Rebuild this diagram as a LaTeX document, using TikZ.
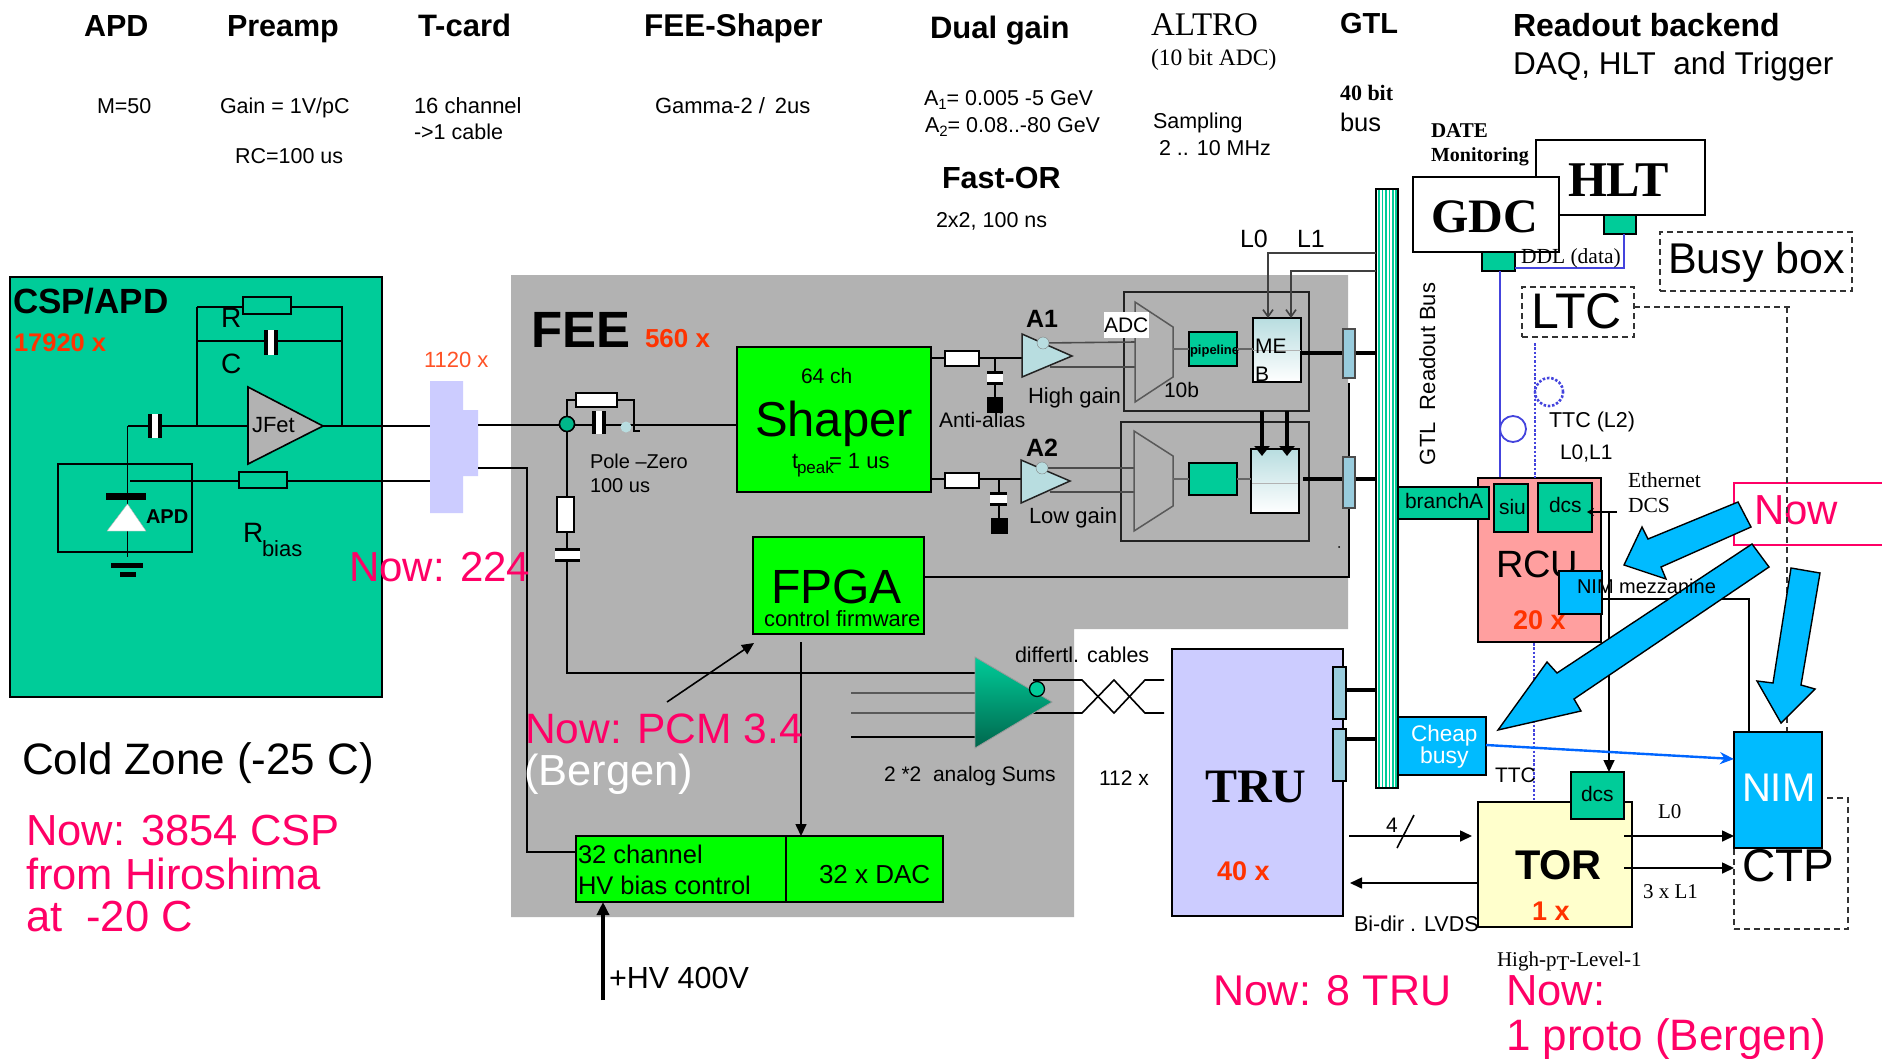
\documentclass[tikz,border=0pt]{standalone}
\usepackage{fontspec}
\setmainfont{Liberation Sans}
\newfontfamily\tmsfont{Liberation Serif}
\usetikzlibrary{fit,arrows.meta}
\definecolor{teal1}{HTML}{00CC99}
\definecolor{grn}{HTML}{00FF00}
\definecolor{gry}{HTML}{B2B2B2}
\definecolor{lav}{HTML}{CCCCFF}
\definecolor{sky}{HTML}{00BBFF}
\definecolor{pnk}{HTML}{FF0066}
\definecolor{orng}{HTML}{FF3300}
\definecolor{ltb}{HTML}{B8DDE0}
\definecolor{conn}{HTML}{99CCDD}
\definecolor{rcu}{HTML}{FF9F9F}
\definecolor{torc}{HTML}{FFFFCC}
\definecolor{ddl}{HTML}{4444DD}
\definecolor{dk}{HTML}{222222}
\tikzset{
  lab/.style={anchor=base west,inner sep=0pt,outer sep=0pt,text=black},
  bld/.style={font=\bfseries},
  tms/.style={font=\tmsfont},
  tmsb/.style={font=\tmsfont\bfseries},
  wire/.style={draw=black,line width=1.6pt},
  thick wire/.style={draw=black,line width=4.5pt},
  boxk/.style={draw=black,line width=1.6pt},
  tealb/.style={boxk,fill=teal1},
  grnb/.style={boxk,fill=grn},
  skyb/.style={boxk,fill=sky},
  res/.style={boxk,fill=white},
  resg/.style={boxk,fill=teal1},
  plug/.style={boxk,fill=conn},
  dashbox/.style={draw=black!80,line width=1.6pt,dash pattern=on 6pt off 4pt},
  blue wire/.style={draw=ddl,line width=1.8pt},
  blue dot/.style={draw=ddl,line width=2.6pt,dash pattern=on 2.5pt off 1.8pt},
  big arrow/.style={draw=black,fill=sky,line width=1.4pt,line join=miter},
  tip/.style={-{Triangle[length=12pt,width=11pt]}},
  open tip/.style={-{Straight Barb[length=7pt,width=10pt]}},
}
\newcommand\lab[5][]{\node[lab,#1] (#2) at (#3) {\fontsize{#4}{#4}\selectfont #5};}
\newcommand\bx[4][]{\node[fit={(#3)(#4)},inner sep=0pt,outer sep=0pt,#1] (#2) {};}
\newcommand\capv[3]{\bx[fill=white]{#1}{#2}{#3}
  \draw[line width=4.5pt,line cap=butt] ([xshift=2.2pt]#1.north west) -- ([xshift=2.2pt]#1.south west) ([xshift=-2.2pt]#1.north east) -- ([xshift=-2.2pt]#1.south east);}
\newcommand\caph[3]{\bx[fill=white]{#1}{#2}{#3}
  \draw[line width=3.5pt,line cap=butt] ([yshift=-1.7pt]#1.north west) -- ([yshift=-1.7pt]#1.north east) ([yshift=1.7pt]#1.south west) -- ([yshift=1.7pt]#1.south east);}
\begin{document}
\begin{tikzpicture}[x=1pt,y=-1pt]
\fill[white] (0,0) rectangle (1882,1058);
\useasboundingbox (0,0) rectangle (1882,1058);
% FEE background
\fill[gry] (511,275) -- (1348,275) -- (1348,629) -- (1074,629) -- (1074,917) -- (511,917) -- cycle;
% CSP box
\bx[boxk,fill=teal1]{csp}{10,277}{382,697}
\lab[bld]{tcsp}{13,313}{35}{CSP/APD}
\lab[bld,text=orng]{t17920}{14,351}{25.5}{17920 x}
% CSP circuit
\coordinate (fbl) at (197,307); \coordinate (fbr) at (342,307);
\coordinate (cfl) at (197,341); \coordinate (cfr) at (342,341);
\coordinate (inj) at (197,426); \coordinate (outj) at (342,426);
\coordinate (inl) at (127.5,426); \coordinate (gnd) at (127.5,557);
\coordinate (biasl) at (130,481);
\coordinate (ampin) at (248,426); \coordinate (ampout) at (323,426);
\bx[fill=none]{lem}{430,381}{463,513}
\draw[wire] (fbl) -- (fbr) -- (outj) (fbl) -- (inj) (cfl) -- (cfr);
\draw[wire] (inl) -- (ampin) (inl) -- (gnd);
\draw[wire] (ampout) -- (lem.west |- ampout);
\draw[wire] (biasl) -- (lem.west |- biasl);
\bx[resg]{rf}{243,297}{291,314}
\capv{cf}{264,330}{278,355}
\capv{cin}{148,414}{162,438}
\bx[boxk]{apdb}{58,464}{192,552}
\bx[resg]{rb}{239,472}{287,488}
\draw[boxk,fill=gry] (248,387) -- (323,426) -- (248,464) -- cycle;
\lab{tjfet}{252,432}{22}{JFet}
\bx[fill=black]{dbar}{106,493}{146,500}
\draw[fill=white,draw=black!30] (127.5,504) -- (107,531) -- (146,531) -- cycle;
\bx[fill=black]{g1}{111,563}{143,568}
\bx[fill=black]{g2}{120,572}{136,577}
\lab[bld]{tapd}{146,523}{20}{APD}
\lab{tr}{221,327}{28}{R}
\lab{tc}{221,373}{28}{C}
\lab{trb}{243,542}{28}{R}
\lab{tbias}{262,556}{22}{bias}
\lab[text=orng!85!white]{t1120}{424,367}{22}{1120 x}
% feedthrough connector
\fill[lav] (430,381) -- (463,381) -- (463,410) -- (478,410) -- (478,476) -- (463,476) -- (463,513) -- (430,513) -- cycle;
\coordinate (lemr) at (478,425); \coordinate (lemb) at (478,468);
% FEE wires
\coordinate (hvc) at (527,468); \coordinate (hvd) at (527,852);
\node[circle,draw=black,line width=1.5pt,fill=teal1!90!black,minimum size=15pt,inner sep=0pt] (nd) at (567,424) {};
\bx[grnb]{shaper}{737,347}{931,492}
\bx[grnb]{fpga}{753,537}{924,634}
\bx[grnb]{hv1}{576,836}{786,902}
\bx[grnb]{hv2}{786,836}{943,902}
\draw[wire] (lemr) -- (shaper.west |- lemr);
\draw[wire] (lemb) -- (hvc) -- (hvd) -- (hv1.west |- hvd);
% pole-zero
\coordinate (pz1) at (567,400); \coordinate (pz2) at (634,400); \coordinate (pz3) at (634,431); \coordinate (pz4) at (640,431);
\bx[res]{rpz}{576,393}{617,407}
\draw[wire] (nd) -- (pz1) -- (rpz.west |- pz1) (rpz.east |- pz2) -- (pz2) -- (pz3) -- (pz4);
\capv{cpz}{592,411}{606,434}
\fill[ltb] (626,427) circle (5.5pt);
\node[circle,draw=black,line width=1.5pt,fill=teal1!90!black,minimum size=15pt,inner sep=0pt] at (567,424) {};
\lab{tpz}{590,468}{20}{Pole –Zero}
\lab{t100}{590,492}{20}{100 us}
% sum line
\coordinate (sumc) at (567,673); \coordinate (sume) at (980,673);
\draw[wire] (nd) -- (sumc) -- (sume);
\bx[res]{rs}{557,497}{574,532}
\caph{cs}{555,548}{580,562}
% Shaper labels
\lab{t64}{801,383}{21}{64 ch}
\lab{tshaper}{755,436}{49}{Shaper}
\lab{ttp}{792,468}{22}{t}
\lab{tpk}{797,473}{17}{peak}
\lab{teq}{829,468}{22}{= 1 us}
% Shaper outputs
\coordinate (a1in) at (1023,358); \coordinate (a2in) at (1021,479);
\coordinate (c1t) at (995,358); \coordinate (c2t) at (999,479);
\draw[wire] (shaper.east |- a1in) -- (a1in);
\draw[wire] (shaper.east |- a2in) -- (a2in);
\bx[res]{r1}{945,351}{979,366}
\bx[res]{r2}{945,473}{979,488}
\bx[fill=black]{k1}{987,397}{1003,413}
\bx[fill=black]{k2}{991,518}{1008,534}
\draw[wire] (c1t) -- (k1.north -| c1t);
\draw[wire] (c2t) -- (k2.north -| c2t);
\caph{c1}{987,371}{1003,385}
\caph{c2}{990,492}{1007,506}
\lab{tanti}{939,427}{21}{Anti-alias}
% FPGA
\lab{tfpga}{771,603}{48}{FPGA}
\lab{tfw}{764,626}{22}{control firmware}
\coordinate (fpa) at (801,642); \coordinate (hvt) at (801,836);
\draw[wire,tip] (fpa) -- (hvt);
\coordinate (pcma) at (667,702); \coordinate (pcmb) at (754,643);
\draw[wire,tip] (pcma) -- (pcmb);
% ALTRO boxes
\bx[draw=dk,line width=1.8pt]{alt1}{1124,292}{1309,411}
\bx[draw=dk,line width=1.8pt]{alt2}{1121,422}{1309,541}
\coordinate (bubA) at (1043,343); \coordinate (bubB) at (1042,468);
\draw[wire,draw=black!70] (bubA) -- (1135,342) (1050,367) -- (1135,367);
\draw[wire,draw=black!70] (bubB) -- (1134,468) (1050,492) -- (1134,492);
\draw[draw=dk,line width=1.5pt,fill=ltb] (1022,334) -- (1072,356) -- (1022,377) -- cycle;
\draw[draw=dk,line width=1.5pt,fill=ltb] (1021,460) -- (1070,481) -- (1021,503) -- cycle;
\node[circle,draw=black!50,fill=ltb,minimum size=12pt,inner sep=0pt] (bA) at (bubA) {};
\node[circle,draw=black!50,fill=ltb,minimum size=12pt,inner sep=0pt] (bB) at (bubB) {};
\lab[bld]{ta1}{1026,327}{25}{A1}
\lab[bld]{ta2}{1026,456}{25}{A2}
\lab{thigh}{1028,403}{22}{High gain}
\lab{tlow}{1029,523}{22}{Low gain}
\draw[draw=black!65,line width=1.5pt,fill=gry] (1135,302) -- (1173,327) -- (1173,377) -- (1135,402) -- cycle;
\draw[draw=black!65,line width=1.5pt,fill=gry] (1134,431) -- (1173,456) -- (1173,506) -- (1134,531) -- cycle;
\bx[fill=white]{adcw}{1104,312}{1149,338}
\lab{tadc}{1104,332}{21}{ADC}
\lab{t10b}{1164,397}{21}{10b}
\bx[tealb]{pipe1}{1189,332}{1237,366}
\bx[tealb]{pipe2}{1189,463}{1237,495}
\lab[bld]{tpipe}{1190,354}{13}{pipeline}
\node[fit={(1253,318)(1301,382)},inner sep=0pt,outer sep=0pt,draw=black,line width=1.5pt,top color=ltb,bottom color=white] (meb1) {};
\node[fit={(1251,449)(1299,513)},inner sep=0pt,outer sep=0pt,draw=black,line width=1.5pt,top color=ltb,bottom color=white] (meb2) {};
\coordinate (m1) at (1173,349); \coordinate (m2) at (1173,479);
\draw[wire,draw=black!60] (m1) -- (pipe1.west |- m1) (pipe1.east |- m1) -- (meb1.west |- m1);
\draw[wire,draw=black!60] (m2) -- (pipe2.west |- m2) (pipe2.east |- m2) -- (meb2.west |- m2);
\draw[draw=black!30,line width=1pt] (meb1.west) -- (meb1.east);
\draw[draw=black!30,line width=1pt] (1252,483) -- (1298,483);
\lab{tme}{1255,353}{21}{ME}
\lab{tb}{1255,381}{21}{B}
% bus
\bx[boxk,fill=white]{bus}{1376,189}{1398,788}
\foreach \s in {1379,1382.5,1386,1389.5,1393,1396}{\draw[teal1,line width=1.8pt] (\s,190) -- (\s,787);}
% L0/L1
\coordinate (l0a) at (1268,253); \coordinate (l1a) at (1291,271);
\draw[wire,draw=black!75,open tip] (bus.west |- l0a) -- (l0a) -- (l0a |- meb1.north);
\draw[wire,draw=black!75,open tip] (bus.west |- l1a) -- (l1a) -- (l1a |- meb1.north);
\lab{tl0}{1240,247}{25}{L0}
\lab{tl1}{1297,247}{25}{L1}
\coordinate (th1) at (1262,411); \coordinate (th2) at (1287,411);
\draw[thick wire,-{Triangle[length=10pt,width=15pt]}] (th1) -- (1262,456);
\draw[thick wire,-{Triangle[length=10pt,width=15pt]}] (th2) -- (1287,456);
% plugs
\coordinate (pl1) at (1301,353); \coordinate (pl2) at (1303,479);
\draw[thick wire] (pl1) -- (bus.west |- pl1);
\draw[thick wire] (pl2) -- (bus.west |- pl2);
\coordinate (fr) at (1349,577);
\bx[plug,draw=black!70]{p1}{1343,329}{1355,378}
\draw[wire] (fpga.east |- fr) -- (fr) -- (1349,383);
\bx[plug,draw=black!70]{p2}{1343,457}{1355,508}
\fill (1339,547) circle (1pt);
% analog sums
\coordinate (s1) at (851,693); \coordinate (s2) at (851,713); \coordinate (s3) at (851,737);
\coordinate (s1e) at (975,693); \coordinate (s2e) at (975,713); \coordinate (s3e) at (975,737);
\draw[wire,draw=black!65,line width=2pt] (s1) -- (s1e) (s2) -- (s2e);
\draw[wire] (s3) -- (s3e);
\coordinate (do1) at (1033,680); \coordinate (do2) at (1033,713);
\draw[wire] (do1) -- (1082,680) -- (1114,713) -- (1145,680) -- (1164,680);
\draw[wire] (do2) -- (1082,713) -- (1114,680) -- (1145,713) -- (1164,713);
\path[draw=black!40,line width=.8pt,top color=teal1,bottom color=teal1!50!black] (975,657) -- (1052,702) -- (975,748) -- cycle;
\node[circle,draw=black,line width=1.3pt,fill=teal1,minimum size=15pt,inner sep=0pt] (dbub) at (1037,689) {};
\lab{tdiff}{1015,662}{21.5}{differtl. cables}
\lab{tsums}{884,781}{21}{2 *2 \ analog Sums}
\lab{t112}{1099,785}{21}{112 x}
% HV
\lab{thv1}{578,863}{25.5}{32 channel}
\lab{thv2}{578,894}{25.5}{HV bias control}
\lab{tdac}{819,883}{26}{32 x DAC}
\coordinate (hvs) at (603,1000);
\draw[line width=4pt,-{Triangle[length=13pt,width=12pt]}] (hvs) -- (hvs |- hv1.south);
\lab{thv}{609,988}{30.5}{+HV 400V}
% FEE labels
\lab[bld]{tfee}{531,347}{51}{FEE}
\lab[bld,text=orng]{t560}{645,347}{26}{560 x}
% Now labels left
\lab[text=pnk]{n224}{349,581}{42}{Now: 224}
\lab[text=pnk]{npcm}{525,743}{42.5}{Now: PCM 3.4}
\lab[text=white]{nberg}{524,785}{43.5}{(Bergen)}
\lab{tcold}{22,774}{44}{Cold Zone (-25 C)}
\lab[text=pnk]{ncsp1}{26,845}{43.5}{Now: 3854 CSP}
\lab[text=pnk]{ncsp2}{26,889}{43.5}{from Hiroshima}
\lab[text=pnk]{ncsp3}{26,931}{43.5}{at \ -20 C}
% Header
\lab[bld]{hapd}{84,36}{30.5}{APD}
\lab[bld]{hpre}{227,36}{30.5}{Preamp}
\lab[bld]{htc}{418,36}{31}{T-card}
\lab[bld]{hfs}{644,36}{31.5}{FEE-Shaper}
\lab[bld]{hdg}{930,38}{31}{Dual gain}
\lab[tms]{halt}{1151,35}{33}{ALTRO}
\lab[tms]{h10}{1151,65}{23.5}{(10 bit ADC)}
\lab[bld]{hgtl}{1340,33}{29}{GTL}
\lab[tmsb]{h40}{1340,100}{22}{40 bit}
\lab{hbus}{1340,131}{25.5}{bus}
\lab[bld]{hrb}{1513,36}{32}{Readout backend}
\lab{hdaq}{1513,74}{31.5}{DAQ, HLT \ and Trigger}
\lab{hm}{97,113}{21.5}{M=50}
\lab{hgain}{220,113}{21.5}{Gain = 1V/pC}
\lab{hrc}{235,163}{21.5}{RC=100 us}
\lab{h16}{414,113}{22}{16 channel}
\lab{hcable}{414,139}{21.5}{->1 cable}
\lab{hgam}{655,113}{22}{Gamma-2 / \,2us}
\lab{ha1}{924,105}{21.5}{A\raisebox{-4pt}{\fontsize{15}{15}\selectfont 1}= 0.005 -5 GeV}
\lab{ha2}{925,132}{21.5}{A\raisebox{-4pt}{\fontsize{15}{15}\selectfont 2}= 0.08..-80 GeV}
\lab{hsamp}{1153,128}{21.5}{Sampling}
\lab{hmhz}{1159,155}{21.5}{2 .. 10 MHz}
\lab[bld]{hfo}{942,188}{30.5}{Fast-OR}
\lab{h2x2}{936,227}{21.5}{2x2, 100 ns}
\lab[rotate=90]{tgtl}{1435,465}{22}{GTL \ Readout Bus}
% GDC / HLT
\lab[tmsb]{tdate}{1431,137}{21}{DATE}
\lab[tmsb]{tmon}{1431,161}{20}{Monitoring}
\bx[boxk,fill=white]{hlt}{1536,140}{1705,215}
\bx[tealb]{hltp}{1604,215}{1636,234}
\bx[boxk,fill=white]{gdc}{1413,177}{1559,252}
\bx[tealb]{gdcp}{1482,252}{1515,271}
\lab[tmsb]{thlt}{1568,196}{50}{HLT}
\lab[tmsb]{tgdc}{1431,232}{48}{GDC}
\coordinate (ddlc) at (1624,268); \coordinate (rcus) at (1500,478);
\draw[blue wire] (gdcp.east |- ddlc) -- (ddlc) -- (ddlc |- hltp.south);
\draw[blue wire] (1500,271) -- (rcus);
\draw[blue wire] (1513,429) circle (13pt);
\lab[tms]{tddl}{1521,263}{21.5}{DDL (data)}
% Busy box, LTC
\bx[dashbox]{busy}{1660,232}{1852,291}
\lab{tbusy}{1668,273}{43}{Busy box}
\bx[dashbox]{ltc}{1522,287}{1634,337}
\lab{tltc}{1531,328}{50}{LTC}
% RCU
\bx[boxk,fill=rcu]{rcubox}{1478,478}{1601,642}
\bx[tealb]{branch}{1398,487}{1489,519}
\bx[tealb]{siu}{1494,484}{1528,532}
\bx[tealb]{dcs1}{1538,483}{1592,532}
\lab{tbr}{1405,508}{21}{branchA}
\lab{tsiu}{1499,514}{21}{siu}
\lab{tdcs}{1549,512}{21}{dcs}
\lab{trcu}{1496,577}{38}{RCU}
\lab[bld,text=orng]{t20}{1513,629}{27}{20 x}
\coordinate (tdot0) at (1535,343); \coordinate (tdot1) at (1535,478);
\coordinate (tdot2) at (1534,643); \coordinate (tdot3) at (1534,802);
\draw[blue dot] (tdot0) -- (tdot1) (tdot2) -- (tdot3);
\draw[blue dot] (1549,392) circle (14pt);
\lab{tttc}{1549,427}{21.5}{TTC (L2)}
\lab{tl01}{1560,459}{21}{L0,L1}
\lab[tms]{teth}{1628,487}{21.5}{Ethernet}
\lab[tms]{tdcsl}{1628,512}{21.5}{DCS}
% TOR
\bx[boxk,fill=torc]{tor}{1478,802}{1632,927}
\bx[tealb]{dcs2}{1571,772}{1624,819}
\lab{tdcs2}{1581,801}{21}{dcs}
\lab[bld]{ttor}{1515,879}{41.5}{TOR}
\lab[bld,text=orng]{t1x}{1532,920}{27}{1 x}
\lab{tttc2}{1495,782}{21}{TTC}
% Ethernet lines
\coordinate (ethr) at (1617,512); \coordinate (ethv) at (1609,512);
\draw[wire,-{Stealth[length=7pt,width=8pt]}] (ethr) -- (1587,512);
\draw[wire,tip] (ethv) -- (ethv |- dcs2.north);
% NIM mezzanine
\bx[skyb]{nimm}{1559,571}{1602,614}
\coordinate (nmc) at (1749,599);
% Now box
\bx[fill=white]{nowb}{1734,483}{1882,545}
\draw[draw=pnk,line width=1.8pt] (nowb.north east) -- (nowb.north west) -- (nowb.south west) -- (nowb.south east);
\lab[text=pnk]{tnow}{1754,524}{42}{Now}
% LTC dashed to CTP
\coordinate (dl1) at (1793,307); \coordinate (dl2) at (1787,307); \coordinate (dl3) at (1787,732);
\draw[dashbox] (ltc.east |- dl1) -- (dl1) (dl2) -- (dl3);
% CTP
\bx[dashbox]{ctp}{1734,798}{1848,929}
\lab[text=black]{tctp}{1742,881}{46}{CTP}
% NIM
\bx[skyb]{nim}{1734,732}{1822,848}
\lab[text=white]{tnim}{1742,801}{40}{NIM}
\draw[wire] (nimm.east |- nmc) -- (nmc) -- (nmc |- nim.north);
% Cheap busy
\bx[skyb]{cheap}{1398,717}{1486,775}
\lab[text=white]{tch}{1411,741}{22.5}{Cheap}
\lab[text=white]{tbsy}{1420,763}{23}{busy}
\coordinate (chb) at (1486,745); \coordinate (nimb) at (1734,759);
\draw[draw=blue!60!cyan,line width=2.4pt,-{Stealth[length=14pt,width=12pt]}] (chb) -- (nimb);
% Tor-CTP
\coordinate (l0s) at (1624,836); \coordinate (l0e) at (1734,836);
\coordinate (l1s) at (1624,868); \coordinate (l1e) at (1734,868);
\draw[wire,tip] (l0s) -- (l0e);
\draw[wire,tip] (l1s) -- (l1e);
\lab[tms]{tl0b}{1658,818}{21}{L0}
\lab[tms]{t3l1}{1643,898}{21}{3 x L1}
% TRU
\bx[boxk,fill=lav]{tru}{1172,649}{1343,916}
\lab[tmsb]{ttru}{1205,802}{48}{TRU}
\lab[bld,text=orng]{t40}{1217,880}{27}{40 x}
\bx[plug]{tp1}{1333,667}{1346,719}
\bx[plug]{tp2}{1333,729}{1346,781}
\coordinate (tpa) at (1346,690); \coordinate (tpb) at (1346,739);
\draw[thick wire] (tpa) -- (bus.west |- tpa);
\draw[thick wire] (tpb) -- (bus.west |- tpb);
\coordinate (f4a) at (1349,836); \coordinate (f4b) at (1472,836);
\draw[wire,tip] (f4a) -- (f4b);
\coordinate (sl1) at (1397,848); \coordinate (sl2) at (1414,815);
\draw[wire] (sl1) -- (sl2);
\lab{t4}{1386,832}{21}{4}
\coordinate (bka) at (1478,883); \coordinate (bkb) at (1350,883);
\draw[wire,tip] (bka) -- (bkb);
\lab{tbidir}{1354,931}{21.5}{Bi-dir . LVDS}
\lab[tms]{thpt}{1497,966}{21}{High-p\raisebox{-4pt}{T}-Level-1}
\lab[text=pnk]{n8}{1213,1005}{43}{Now: 8 TRU}
\lab[text=pnk]{np1}{1506,1005}{43.5}{Now:}
\lab[text=pnk]{np2}{1506,1050}{44}{1 proto (Bergen)}
% big arrows
\draw[big arrow] (1738,502) -- (1751,527) -- (1661,567) -- (1666,579) -- (1624,565) -- (1642,527) -- (1648,539) -- cycle;
\draw[big arrow] (1752,544) -- (1769,567) -- (1574,699) -- (1581,711) -- (1498,730) -- (1547,662) -- (1557,673) -- cycle;
\draw[big arrow] (1791,568) -- (1820,573) -- (1801,685) -- (1815,689) -- (1781,723) -- (1757,681) -- (1773,683) -- cycle;
\lab{tnm}{1577,593}{20}{NIM mezzanine}
\end{tikzpicture}
\end{document}
